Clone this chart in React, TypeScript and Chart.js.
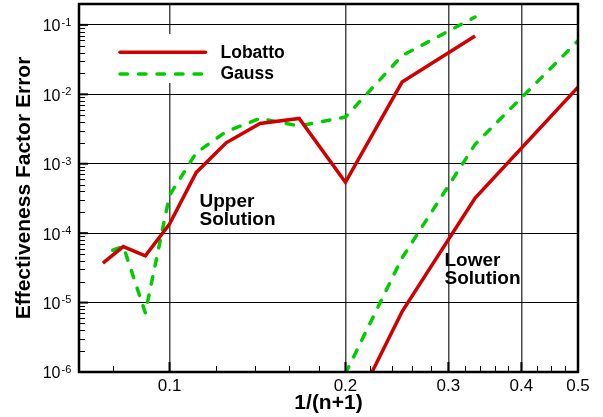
import React, { useEffect, useRef } from "react";
import { Chart, registerables } from "chart.js";

Chart.register(...registerables);

// ---- data (x = 1/(n+1)) ----
const upperN = [12, 11, 10, 9, 8, 7, 6, 5, 4, 3, 2];
const lowerN = [4, 3, 2, 1];
const lobattoUpper = [3.7e-5, 6.4e-5, 4.7e-5, 1.35e-4, 7.5e-4, 2.0e-3, 3.8e-3, 4.5e-3, 5.4e-4, 1.5e-2, 6.9e-2];
const gaussUpper = [5.0e-5, 6.5e-5, 7.1e-6, 3.5e-4, 1.44e-3, 2.9e-3, 4.5e-3, 3.5e-3, 4.7e-3, 3.6e-2, 1.3e-1];
const lobattoLower = [1.7e-7, 7.4e-6, 3.2e-4, 1.27e-2];
const gaussLower = [9.5e-7, 4.4e-5, 1.9e-3, 5.9e-2];

const seriesNames = ["Lobatto", "Gauss"];
const xTickValues = [0.1, 0.2, 0.3, 0.4, 0.5];
const xTickLabels = ["0.1", "0.2", "0.3", "0.4", "0.5"];
const xMinorTicks = [0.08, 0.12, 0.14, 0.16, 0.18, 0.22, 0.24, 0.26, 0.28, 0.32, 0.34, 0.36, 0.38, 0.425, 0.45, 0.475];
const yDecadeExps = [-6, -5, -4, -3, -2, -1];
const yExpLabels = ["-6", "-5", "-4", "-3", "-2", "-1"];
const annotations = [["Upper", "Solution"], ["Lower", "Solution"]];
const xTitle = "1/(n+1)";
const yTitle = "Effectiveness Factor Error";

const X_MIN = 0.07, X_MAX = 0.5, Y_MIN = 1e-6, Y_MAX = 0.2;
const RED = "#d00000";
const GREEN = "#00cc00";
const FONT = '"Liberation Sans", Arial, Helvetica, sans-serif';
const DASH = [7.5, 11];

const pts = (ns: number[], ys: number[]) => ns.map((n, i) => ({ x: 1 / (n + 1), y: ys[i] }));

const decor = {
  id: "decor",
  beforeDatasetsDraw(chart: any) {
    const ctx = chart.ctx;
    ctx.save();
    ctx.fillStyle = "#ffffff";
    ctx.fillRect(110, 34, 190, 49);
    ctx.restore();
  },
  afterDraw(chart: any) {
    const ctx = chart.ctx as CanvasRenderingContext2D;
    const { left, right, top, bottom } = chart.chartArea;
    const xs = chart.scales.x;
    const ys = chart.scales.y;
    ctx.save();

    // y ticks (inside, from left)
    ctx.strokeStyle = "#000";
    for (const e of yDecadeExps) {
      for (let k = 2; k <= 9; k++) {
        const v = k * Math.pow(10, e);
        if (v >= Y_MAX) continue;
        const py = Math.round(ys.getPixelForValue(v)) + 0.5;
        ctx.lineWidth = 1;
        ctx.beginPath();
        ctx.moveTo(left, py);
        ctx.lineTo(left + 6, py);
        ctx.stroke();
      }
      const py = ys.getPixelForValue(Math.pow(10, e));
      ctx.lineWidth = 2;
      ctx.beginPath();
      ctx.moveTo(left, py);
      ctx.lineTo(left + 9, py);
      ctx.stroke();
    }
    // x ticks (inside, from bottom)
    for (const v of xMinorTicks) {
      const px = Math.round(xs.getPixelForValue(v)) + 0.5;
      ctx.lineWidth = 1;
      ctx.beginPath();
      ctx.moveTo(px, bottom);
      ctx.lineTo(px, bottom - 6);
      ctx.stroke();
    }
    for (const v of xTickValues) {
      const px = xs.getPixelForValue(v);
      ctx.lineWidth = 2;
      ctx.beginPath();
      ctx.moveTo(px, bottom);
      ctx.lineTo(px, bottom - 10);
      ctx.stroke();
    }

    // frame
    ctx.lineWidth = 2.5;
    ctx.strokeRect(left, top, right - left, bottom - top);

    // y tick labels 10^e
    ctx.fillStyle = "#000";
    yDecadeExps.forEach((e, i) => {
      const py = ys.getPixelForValue(Math.pow(10, e));
      ctx.font = `16px ${FONT}`;
      ctx.textAlign = "right";
      ctx.textBaseline = "alphabetic";
      ctx.fillText("10", 60.5, py + 6.4);
      ctx.font = `11px ${FONT}`;
      ctx.textAlign = "left";
      ctx.fillText(yExpLabels[i], 61.5, py + 0.8);
    });

    // x tick labels
    ctx.font = `17px ${FONT}`;
    ctx.textAlign = "center";
    ctx.textBaseline = "alphabetic";
    xTickValues.forEach((v, i) => {
      ctx.fillText(xTickLabels[i], xs.getPixelForValue(v), 391);
    });

    // axis titles
    ctx.font = `bold 21px ${FONT}`;
    ctx.textAlign = "center";
    ctx.fillText(xTitle, (left + right) / 2, 409);
    ctx.save();
    ctx.translate(24, (top + bottom) / 2);
    ctx.rotate(-Math.PI / 2);
    ctx.textBaseline = "middle";
    ctx.fillText(yTitle, 0, 0);
    ctx.restore();

    // legend
    ctx.lineWidth = 3.5;
    ctx.lineCap = "round";
    ctx.strokeStyle = RED;
    ctx.setLineDash([]);
    ctx.beginPath();
    ctx.moveTo(120, 52.3);
    ctx.lineTo(205.5, 52.3);
    ctx.stroke();
    ctx.strokeStyle = GREEN;
    ctx.setLineDash(DASH);
    ctx.beginPath();
    ctx.moveTo(120, 74);
    ctx.lineTo(205.5, 74);
    ctx.stroke();
    ctx.setLineDash([]);
    ctx.fillStyle = "#000";
    ctx.font = `bold 17.5px ${FONT}`;
    ctx.textAlign = "left";
    ctx.textBaseline = "alphabetic";
    ctx.fillText(seriesNames[0], 220.5, 58.3);
    ctx.fillText(seriesNames[1], 220.5, 79.2);

    // annotations
    ctx.font = `bold 19px ${FONT}`;
    ctx.fillText(annotations[0][0], 199.5, 207);
    ctx.fillText(annotations[0][1], 199.5, 224.5);
    ctx.fillText(annotations[1][0], 444.5, 265.5);
    ctx.fillText(annotations[1][1], 444.5, 283.5);

    ctx.restore();
  },
};

export default function App() {
  const ref = useRef<HTMLCanvasElement | null>(null);
  useEffect(() => {
    document.body.style.margin = "0";
    const canvas = ref.current!;
    const lineBase = { pointRadius: 0, tension: 0, fill: false, borderWidth: 3.5, clip: 0 };
    const chart = new Chart(canvas, {
      type: "line",
      data: {
        datasets: [
          { ...lineBase, label: "Lobatto upper", data: pts(upperN, lobattoUpper), borderColor: RED, borderJoinStyle: "miter" },
          { ...lineBase, label: "Lobatto lower", data: pts(lowerN, lobattoLower), borderColor: RED, borderJoinStyle: "miter" },
          { ...lineBase, label: "Gauss upper", data: pts(upperN, gaussUpper), borderColor: GREEN, borderDash: DASH, borderDashOffset: 8, borderCapStyle: "round", borderJoinStyle: "round" },
          { ...lineBase, label: "Gauss lower", data: pts(lowerN, gaussLower), borderColor: GREEN, borderDash: DASH, borderCapStyle: "round", borderJoinStyle: "round" },
        ] as any,
      },
      options: {
        animation: false,
        responsive: false,
        maintainAspectRatio: false,
        parsing: true,
        layout: { padding: { top: 4, right: 25, left: 0, bottom: 0 } },
        plugins: { legend: { display: false }, tooltip: { enabled: false }, title: { display: false } },
        scales: {
          x: {
            type: "logarithmic",
            min: X_MIN,
            max: X_MAX,
            afterBuildTicks: (s: any) => { s.ticks = xTickValues.map((v) => ({ value: v })); },
            afterFit: (s: any) => { s.height = 45; },
            ticks: { display: false },
            border: { display: false },
            grid: { drawTicks: false, color: "#4a4a4a", lineWidth: 1.5 },
          },
          y: {
            type: "logarithmic",
            min: Y_MIN,
            max: Y_MAX,
            afterBuildTicks: (s: any) => { s.ticks = yDecadeExps.map((e) => ({ value: Math.pow(10, e) })); },
            afterFit: (s: any) => { s.width = 79; },
            ticks: { display: false },
            border: { display: false },
            grid: { drawTicks: false, color: "#000000", lineWidth: 1 },
          },
        },
      } as any,
      plugins: [decor],
    });
    return () => chart.destroy();
  }, []);
  return (
    <div style={{ width: 603, height: 417, position: "relative" }}>
      <canvas ref={ref} width={603} height={417} style={{ display: "block", width: 603, height: 417 }} />
    </div>
  );
}
